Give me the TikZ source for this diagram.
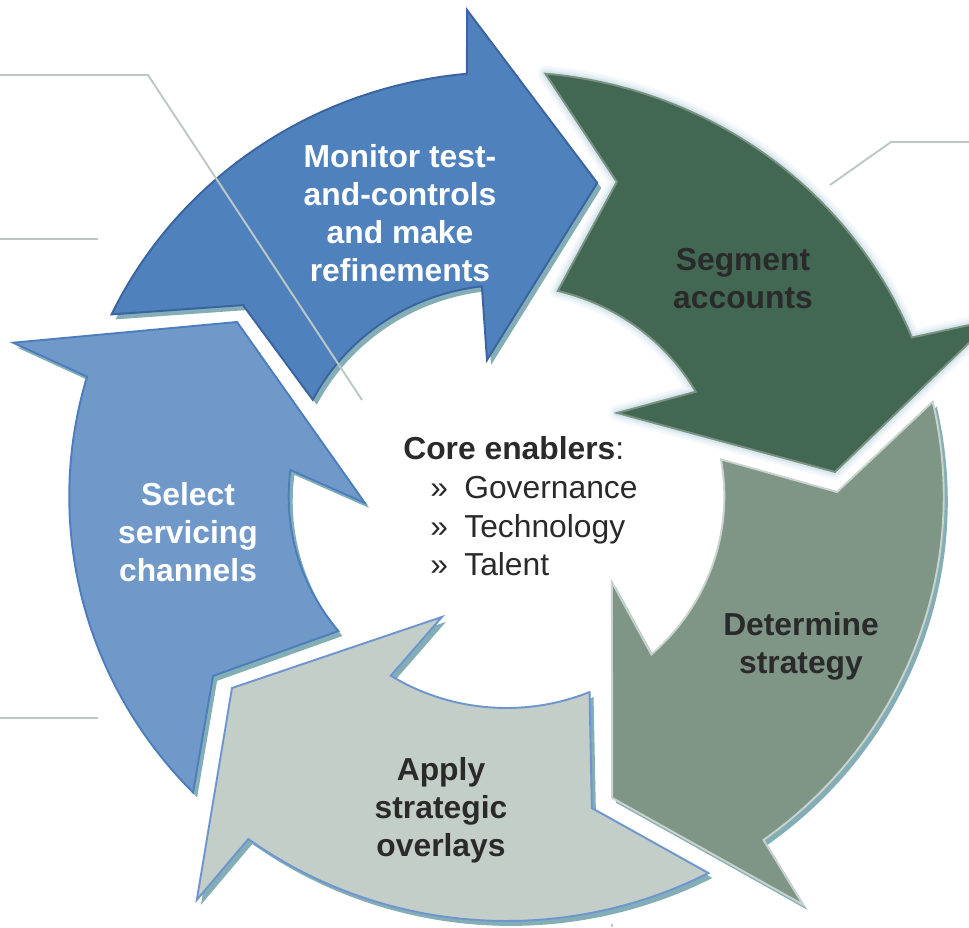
\documentclass[tikz,border=0pt]{standalone}
\usepackage{fontspec}
\setmainfont{Liberation Sans}

\definecolor{monitorfill}{RGB}{79,129,189}
\definecolor{monitoredge}{RGB}{58,100,160}
\definecolor{segmentfill}{RGB}{66,104,84}
\definecolor{segmentedge}{RGB}{122,146,130}
\definecolor{determinefill}{RGB}{127,150,135}
\definecolor{determineedge}{RGB}{202,210,205}
\definecolor{applyfill}{RGB}{196,206,200}
\definecolor{applyedge}{RGB}{110,150,206}
\definecolor{selectfill}{RGB}{112,153,201}
\definecolor{selectedge}{RGB}{76,126,190}
\definecolor{shadowteal}{RGB}{132,174,181}
\definecolor{glowblue}{RGB}{150,190,205}
\definecolor{leadergrey}{RGB}{190,200,195}
\definecolor{textdark}{RGB}{42,42,42}

% ring radii of the cycle
\newcommand{\outr}{424.5}
\newcommand{\innr}{211.5}
% one ring segment: tail corner, outer arc, head (barb, tip, barb), inner arc, notch
\newcommand{\ringpath}[8]{%
  (#1:\outr) arc[start angle=#1, end angle=#2, radius=\outr]
  -- (#3) -- (#4) -- (#5) -- (#6:\innr)
  arc[start angle=#6, end angle=#7, radius=\innr]
  -- (#8) -- cycle}

\begin{document}
\begin{tikzpicture}[x=0.02cm, y=0.02cm,
    ringshadow/.style={preaction={fill=shadowteal, draw=none,
        transform canvas={xshift=2.3pt, yshift=-2.8pt}}},
    ringarrow/.style={line width=1.1pt, line join=miter},
    monitorarrow/.style={ringarrow, ringshadow, fill=monitorfill, draw=monitoredge},
    segmentarrow/.style={ringarrow,
        preaction={draw=glowblue, line width=9pt, opacity=0.10, line join=round},
        preaction={draw=glowblue, line width=6pt, opacity=0.14, line join=round},
        preaction={draw=glowblue, line width=3.5pt, opacity=0.2, line join=round},
        fill=segmentfill, draw=segmentedge},
    determinearrow/.style={ringarrow, ringshadow, fill=determinefill, draw=determineedge},
    applyarrow/.style={ringarrow, ringshadow, fill=applyfill, draw=applyedge},
    selectarrow/.style={ringarrow, ringshadow, fill=selectfill, draw=selectedge},
    arrowtext/.style={align=center, inner sep=0pt,
        font=\bfseries\fontsize{18.1}{21.6}\selectfont},
    bodytext/.style={inner sep=0pt, text=textdark,
        font=\fontsize{18.1}{21.6}\selectfont},
    leader/.style={draw=leadergrey, line width=1.1pt}]

  \clip (0,0) rectangle (969,927);

  % the five arrows of the cycle
  \begin{scope}[shift={(506.5,430.5)}, xscale=1.03]
    \draw[segmentarrow] \ringpath{84.9}{22.0}{20.5:504}{4.4:319.9}{37.9:136}{29.7}{76.4}{71.2:332.3};
    \draw[monitorarrow] \ringpath{154.6}{95.2}{94.5:488}{74.3:325.7}{97.9:137.8}{96.5}{152.8}{143.2:319.5};
    \draw[determinearrow] \ringpath{12.9}{-54.0}{-54.8:499.7}{-71.2:318.4}{-39.9:133.4}{-48.3}{10.1}{0.8:321};
    \draw[applyarrow] \ringpath{297.5}{233.8}{233.3:503.1}{215.7:328.2}{242.5:135.8}{237.9}{292.4}{284.9:322.4};
    \draw[selectarrow] \ringpath{224.2}{163.6}{162.2:503.1}{146.3:314.5}{182.7:137.6}{172.8}{219.5}{212.2:336.7};
  \end{scope}

  % arrow labels
  \node[arrowtext, text=white] (monitor) at (400,713.5) {Monitor test-\\and-controls\\and make\\refinements};
  \node[arrowtext, text=textdark] (segment) at (743,648.5) {Segment\\accounts};
  \node[arrowtext, text=textdark] (determine) at (801,281) {Determine\\strategy};
  \node[arrowtext, text=textdark] (apply) at (441,117) {Apply\\strategic\\overlays};
  \node[arrowtext, text=white] (select) at (188,395) {Select\\servicing\\channels};

  % centre text
  \node[bodytext, anchor=base west] (core) at (403,468) {\textbf{Core enablers}:};
  \foreach \word/\yy [count=\i] in {Governance/429, Technology/390, Talent/352}
    \node[bodytext, anchor=base west] (enabler\i) at (430,\yy) {\makebox[0.68cm][l]{»}\word};

  % leader lines
  \coordinate (lead1a) at (0,852);
  \coordinate (lead1b) at (148,852);
  \coordinate (lead1c) at (362,527);
  \coordinate (lead2a) at (0,688);
  \coordinate (lead2b) at (98,688);
  \coordinate (lead3a) at (0,209);
  \coordinate (lead3b) at (98,209);
  \coordinate (lead4a) at (830,742);
  \coordinate (lead4b) at (891,785);
  \coordinate (lead4c) at (969,785);
  \coordinate (lead5a) at (612,0);
  \coordinate (lead5b) at (612,3);
  \draw[leader] (lead1a) -- (lead1b) -- (lead1c);
  \draw[leader] (lead2a) -- (lead2b);
  \draw[leader] (lead3a) -- (lead3b);
  \draw[leader] (lead4a) -- (lead4b) -- (lead4c);
  \draw[leader] (lead5a) -- (lead5b);
\end{tikzpicture}
\end{document}
